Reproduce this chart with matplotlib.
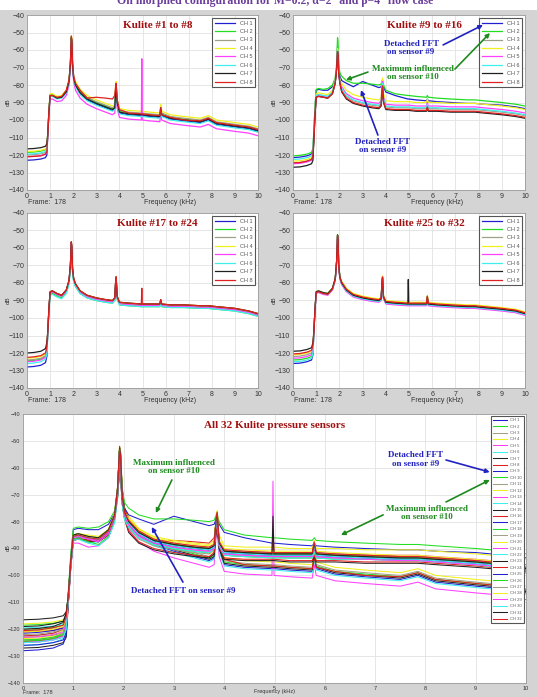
import numpy as np
import matplotlib
matplotlib.use("Agg")
import matplotlib.pyplot as plt
from matplotlib.patches import Rectangle

# frequency grid (kHz) shared by all spectra
freq = [0.0, 0.3, 0.6, 0.8, 0.86, 0.9, 0.95, 1.0, 1.1, 1.3, 1.5, 1.7, 1.82, 1.88,
        1.92, 1.94, 1.97, 2.02, 2.1, 2.3, 2.6, 3.0, 3.4, 3.7, 3.8, 3.84, 3.86, 3.9,
        4.0, 4.4, 4.95, 4.97, 4.99, 5.3, 5.75, 5.79, 5.83, 6.2, 6.8, 7.5, 7.85, 8.2,
        9.0, 9.6, 10.0]

# typical spectrum of each group of 8 sensors (dB)
base_1_8 = [-119, -118.8, -118.3, -117.5, -116, -108, -95, -86, -86, -87.5, -87, -84, -78, -68,
            -53, -55, -68, -76, -80, -84.5, -88, -90.5, -92.5, -94, -93, -82, -80, -90,
            -95.5, -96.5, -97, -97, -97, -97.5, -98, -93, -97, -99, -100, -101, -99.5, -102,
            -103.5, -104.5, -106]
base_9_16 = [-124, -123.8, -123, -122, -120, -110, -96, -86, -85.5, -86, -86.5, -84, -78, -70,
             -60, -62, -72, -78, -82, -86, -88.5, -90, -91, -91.5, -90, -82, -79, -88,
             -92, -92.5, -92.5, -92.5, -92.5, -93, -93, -91, -93, -93, -93.5, -93.5, -93.5, -94,
             -95, -96, -97]
base_17_24 = [-124, -123.7, -123, -121.5, -118, -108, -95, -85.5, -85, -86.5, -87.5, -84.5, -79, -70,
              -57, -60, -72, -78, -81, -85, -87.5, -89, -90, -90.5, -89, -79, -77, -88,
              -91.5, -92, -92.5, -92.5, -92.5, -92.5, -92.5, -90, -92.5, -93, -93, -93.5, -93.5, -94,
              -95, -96.5, -98]
base_25_32 = [-122, -121.8, -121, -120, -117, -108, -95, -85.5, -85, -86, -86.5, -83.5, -78, -68,
              -53, -56, -70, -77, -80, -84, -87, -88.5, -89.5, -90, -89, -79, -77, -88,
              -91, -91.5, -92, -92, -92, -92, -92, -88, -92, -92.5, -93, -93.5, -93.5, -94,
              -95, -96, -97.5]

# per channel offsets: below 0.9 kHz, 0.9-2 kHz, above 2 kHz
low_1_8 = [-4, 0.5, -1, 1, -2, -0.5, 2.5, -2]
mid_1_8 = [0, 0.5, 0, 1, -2, -0.5, 0, 0]
tail_1_8 = [-0.5, 0.5, 1, 2, -3, -1, 0, 0.5]
low_9_16 = [0, 0, -0.5, 0.5, -1, 1.5, -3, -0.5]
mid_9_16 = [0, 0, 0, 1, -0.5, 0, -1, -1]
tail_9_16 = [0, 0, -0.5, 3, 1, 0, -2, -1.5]
low_17_24 = [-4, -0.5, 0, 1, -1, -2, 4, 1.5]
mid_17_24 = [0, -1, 0, 0.5, 0, -1.5, 0.5, 0.5]
tail_17_24 = [0, -1, 0, 0.5, -0.5, -1, 0.5, 0.5]
low_25_32 = [-4, -2, 0, 1, -1, -3, 3, 1.5]
mid_25_32 = [0, 0.5, 0, 0.5, -0.5, 0, 0.5, 0]
tail_25_32 = [-0.5, 0, 0.5, 1, -1, -0.5, 0, 0.5]

# channels with their own shape
kulite_8 = [-121, -120.8, -120.5, -119.5, -118, -108, -95, -86, -86, -87, -86.5, -83, -77, -67,
            -52, -54, -67, -75, -79, -83, -87.5, -87, -87.5, -88, -86, -80, -79, -88,
            -94, -96, -96.5, -96.5, -96.5, -97, -97.5, -93, -97, -98.5, -100, -100.5, -99, -101.5,
            -103, -104, -105.5]
kulite_9 = [-121.5, -121.2, -120.5, -119.5, -117, -107, -93, -83, -82.5, -83, -83, -81, -77, -70,
            -58, -60, -70, -75, -77.5, -79, -81, -78, -80, -81.5, -81, -79, -78, -81,
            -84, -86, -88, -88, -88, -88.5, -89, -88, -89, -89.5, -90, -90.5, -90.5, -91,
            -91.5, -92.5, -93.5]
kulite_10 = [-120.5, -120.2, -119.5, -118.5, -116, -106, -92, -82.5, -82, -82.5, -82, -80, -76, -68,
             -53, -55, -68, -73, -75, -77.5, -79, -79, -79.5, -80, -79.5, -77.5, -77, -80,
             -83, -85, -86, -86, -86, -86.5, -87, -86, -87, -87.5, -88, -88.5, -88.5, -89,
             -90, -91, -92]

# single-line tones near 5 kHz (channel number: peak dB)
tone_5k = {5: -65, 24: -83, 31: -78}

ch_colors = ["#2020d0", "#22dd22", "#a0a088", "#f0f020", "#ff40ff", "#40eeee", "#202020", "#e02020"]
titles = ["Kulite #1 to #8", "Kulite #9 to #16", "Kulite #17 to #24", "Kulite #25 to #32"]

f = np.array(freq)


def build(base, low, mid, tail):
    b = np.array(base, float)
    out = []
    for lo, mi, ta in zip(low, mid, tail):
        out.append(b + np.where(f < 0.88, lo, np.where(f < 2.05, mi, ta)))
    return out


curves = (build(base_1_8, low_1_8, mid_1_8, tail_1_8)
          + build(base_9_16, low_9_16, mid_9_16, tail_9_16)
          + build(base_17_24, low_17_24, mid_17_24, tail_17_24)
          + build(base_25_32, low_25_32, mid_25_32, tail_25_32))
curves[7] = np.array(kulite_8, float)
curves[8] = np.array(kulite_9, float)
curves[9] = np.array(kulite_10, float)
i5k = freq.index(4.97)
for ch, v in tone_5k.items():
    curves[ch - 1][i5k] = v

W, H = 537, 697
fig = plt.figure(figsize=(W / 100, H / 100), dpi=100, facecolor="white")
fig.patches.append(Rectangle((0, 0), 1, 1 - 10 / H, transform=fig.transFigure,
                             facecolor="#d4d4d4", edgecolor="none", zorder=-10))

SANS = "Liberation Sans"
SERIF = "Liberation Serif"
BLUE = "#2222c0"
GREEN = "#1e8a1e"


def px(x, y):
    return x / W, 1 - y / H


def make_ax(l, t, r, b, fs):
    ax = fig.add_axes([l / W, 1 - b / H, (r - l) / W, (b - t) / H])
    ax.set_facecolor("white")
    ax.set_xlim(0, 10)
    ax.set_ylim(-140, -40)
    ax.set_xticks(range(0, 11))
    ax.set_yticks(range(-140, -39, 10))
    ax.grid(True, color="#e2e2e2", lw=0.6)
    ax.set_axisbelow(True)
    ax.tick_params(length=0, pad=2, labelsize=fs, colors="#333333")
    for lab in ax.get_xticklabels() + ax.get_yticklabels():
        lab.set_family(SANS)
    for s in ax.spines.values():
        s.set_color("#9a9a9a")
        s.set_linewidth(0.6)
    return ax


def draw(ax, chans, fs_leg, hl, lsp, lw):
    for k, c in enumerate(chans):
        ax.plot(f, curves[c], color=ch_colors[c % 8], lw=lw, label="CH %d" % (k + 1))
    leg = ax.legend(loc="upper right", handlelength=hl, labelspacing=lsp,
                    borderpad=0.5, handletextpad=0.8, fancybox=False, framealpha=1,
                    edgecolor="#555555", prop={"family": SANS, "size": fs_leg})
    leg.get_frame().set_linewidth(0.8)
    leg.set_zorder(5)
    for t in leg.get_texts():
        t.set_color("#555555")


def arrow(ax, xy_from, xy_to, color):
    ax.annotate("", xy=xy_to, xytext=xy_from, zorder=7,
                arrowprops=dict(arrowstyle="-|>", color=color, lw=1.2, mutation_scale=6,
                                shrinkA=0, shrinkB=0))


# top title (cut by the page edge)
fig.text(0.512, 1 - 1 / H, "On morphed configuration for M=0.2, \u03b1=2\u00b0 and \u03b2=4\u00b0 flow case",
         ha="center", va="center", family=SERIF, weight="bold", size=8.5, color="#6a3d9a")

# four small panels
boxes = [(27, 15, 258, 190), (293, 15, 525, 190), (27, 213, 258, 388), (293, 213, 525, 388)]
small_axes = []
for p, (l, t, r, b) in enumerate(boxes):
    ax = make_ax(l, t, r, b, 5)
    draw(ax, range(p * 8, p * 8 + 8), 4, 3.6, 0.62, 0.9)
    fig.text(*px((l + r) / 2 + 15, t + 10), titles[p], ha="center", va="center",
             family=SERIF, weight="bold", size=8, color="#a01010")
    fig.text(*px(l - 19, (t + b) / 2), "dB", ha="center", va="center", rotation=90,
             family=SANS, size=4.5, color="#333333")
    fig.text(*px(l + 1, b + 13), "Frame:  178", ha="left", va="center", family=SANS,
             size=5, color="#333333")
    fig.text(*px((l + r) / 2 + 28, b + 13), "Frequency (kHz)", ha="center", va="center",
             family=SANS, size=5, color="#333333")
    small_axes.append(ax)

ax2 = small_axes[1]
ax2.text(5.09, -58.9, "Detached FFT\non sensor #9", ha="center", va="center", family=SERIF,
         weight="bold", size=6.5, color=BLUE, zorder=6, linespacing=1.1)
arrow(ax2, (6.47, -57.1), (8.19, -45.7), BLUE)
ax2.text(5.17, -73.1, "Maximum influenced\non sensor #10", ha="center", va="center", family=SERIF,
         weight="bold", size=6.5, color=GREEN, zorder=6, linespacing=1.1)
arrow(ax2, (6.98, -70.9), (8.49, -50.3), GREEN)
arrow(ax2, (3.23, -72.6), (2.28, -77.1), GREEN)
ax2.text(3.88, -114.9, "Detached FFT\non sensor #9", ha="center", va="center", family=SERIF,
         weight="bold", size=6.5, color=BLUE, zorder=6, linespacing=1.1)
arrow(ax2, (3.66, -108.6), (2.93, -82.9), BLUE)

# big panel with all 32 sensors
ax5 = make_ax(23, 414, 526, 683, 4)
draw(ax5, range(32), 3, 3.2, 0.58, 0.75)
fig.text(*px(275, 426), "All 32 Kulite pressure sensors", ha="center", va="center",
         family=SERIF, weight="bold", size=8, color="#a01010")
fig.text(*px(8, 548), "dB", ha="center", va="center", rotation=90, family=SANS, size=4,
         color="#333333")
fig.text(*px(23, 692), "Frame:  178", ha="left", va="center", family=SANS, size=4,
         color="#333333")
fig.text(*px(274, 692), "Frequency (kHz)", ha="center", va="center", family=SANS, size=4,
         color="#333333")

ax5.text(3.0, -59.7, "Maximum influenced\non sensor #10", ha="center", va="center", family=SERIF,
         weight="bold", size=6.5, color=GREEN, zorder=6, linespacing=1.1)
arrow(ax5, (2.96, -64.5), (2.64, -76.8), GREEN)
ax5.text(3.18, -105.8, "Detached FFT on sensor #9", ha="center", va="center", family=SERIF,
         weight="bold", size=6.5, color=BLUE, zorder=6)
arrow(ax5, (3.18, -102.5), (2.56, -82), BLUE)
ax5.text(7.81, -57, "Detached FFT\non sensor #9", ha="center", va="center", family=SERIF,
         weight="bold", size=6.5, color=BLUE, zorder=6, linespacing=1.1)
arrow(ax5, (8.41, -57.1), (9.28, -61.6), BLUE)
ax5.text(8.03, -76.8, "Maximum influenced\non sensor #10", ha="center", va="center", family=SERIF,
         weight="bold", size=6.5, color=GREEN, zorder=6, linespacing=1.1)
arrow(ax5, (8.41, -72.7), (9.28, -64.5), GREEN)
arrow(ax5, (7.16, -77.5), (6.32, -85), GREEN)

fig.savefig("out.png", dpi=100, facecolor=fig.get_facecolor())
